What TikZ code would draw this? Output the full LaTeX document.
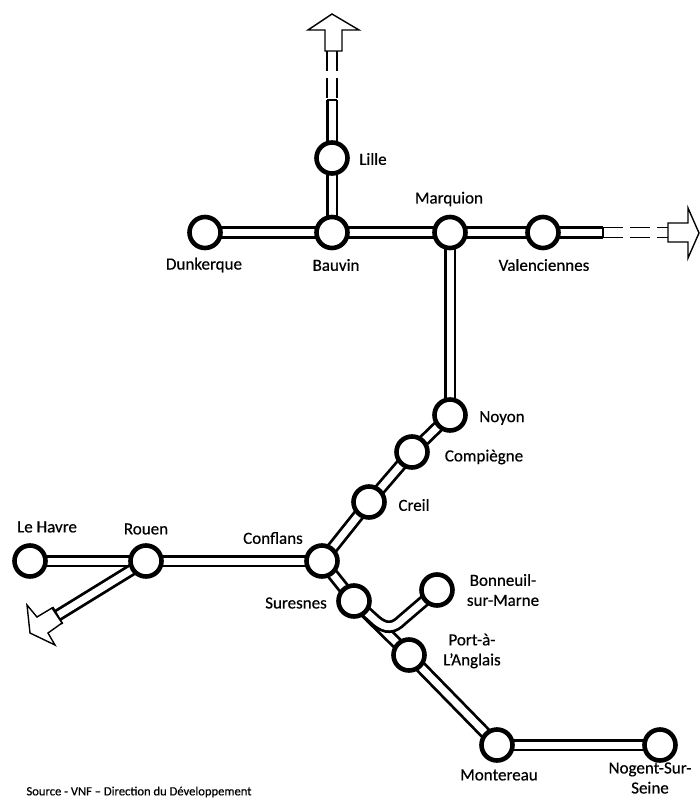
\documentclass[tikz,border=0pt]{standalone}
\usepackage{fontspec}
\setmainfont[FakeBold=0.5]{Carlito}
\tikzset{
  x=1pt,y=-1pt,
  stop/.style={circle,draw=black,fill=white,line width=4.6pt,minimum size=31pt,inner sep=0pt},
  tube/.style={draw=black,line width=2.8pt,double=white,double distance=7pt},
  capline/.style={draw=black,line width=2pt},
  ghost/.style={draw=black,line width=1.2pt,dash pattern=on 20pt off 7pt},
  outline/.style={draw=black,fill=white,line width=1.4pt,line join=miter},
  lbl/.style={font=\fontsize{17}{20}\selectfont,text=black,inner sep=0pt,align=center},
  src/.style={font=\fontsize{12.6}{14}\selectfont,text=black,inner sep=0pt}
}
\begin{document}
\begin{tikzpicture}
\useasboundingbox (0,0) rectangle (700,800);
% station positions
\coordinate (pLille) at (332,158);
\coordinate (pDunk) at (205,232.5);
\coordinate (pBauvin) at (332,232.5);
\coordinate (pMarq) at (450,232.5);
\coordinate (pVal) at (543,232.5);
\coordinate (pNoyon) at (450,415);
\coordinate (pComp) at (412,452);
\coordinate (pCreil) at (369,502);
\coordinate (pConf) at (322,561);
\coordinate (pRouen) at (146,561);
\coordinate (pHavre) at (30,561);
\coordinate (pSur) at (354,601);
\coordinate (pBonn) at (437,590);
\coordinate (pPort) at (409,655);
\coordinate (pMont) at (497,745);
\coordinate (pNog) at (660,745);
% free ends
\coordinate (nEnd) at (332,100);
\coordinate (eEnd) at (603,232.5);
\coordinate (wEnd) at (57.5,615.5);
\coordinate (nA) at (327,100);
\coordinate (nB) at (337,100);
\coordinate (nC) at (327,51);
\coordinate (nD) at (337,51);
\coordinate (eA) at (603,227.5);
\coordinate (eB) at (603,237.5);
\coordinate (eC) at (668,227.5);
\coordinate (eD) at (668,237.5);
% tubes
\draw[tube] (pLille) -- (nEnd);
\draw[tube] (pLille) -- (pBauvin);
\draw[tube] (pDunk) -- (pBauvin);
\draw[tube] (pBauvin) -- (pMarq);
\draw[tube] (pMarq) -- (pVal);
\draw[tube] (pVal) -- (eEnd);
\draw[tube] (pMarq) -- (pNoyon);
\draw[tube] (pNoyon) -- (pComp);
\draw[tube] (pComp) -- (pCreil);
\draw[tube] (pCreil) -- (pConf);
\draw[tube] (pConf) -- (pRouen);
\draw[tube] (pRouen) -- (pHavre);
\draw[tube] (pRouen) -- (wEnd);
\draw[tube] (pConf) -- (pSur);
\draw[tube] (pSur) -- (pPort);
\draw[tube] (pPort) -- (pMont);
\draw[tube] (pMont) -- (pNog);
\draw[tube] (pSur) -- (375,620) .. controls (386,630) and (394,628) .. (402,620) -- (pBonn);
% end caps
\draw[capline] (nA) -- (nB);
\draw[capline] (eA) -- (eB);
\draw[capline] (52.5,607) -- (62.5,624);
% dashed continuations
\draw[ghost] (nC) -- (nA);
\draw[ghost] (nD) -- (nB);
\draw[ghost] (eA) -- (eC);
\draw[ghost] (eB) -- (eD);
% arrows
\draw[outline] (332,14) -- (359,30) -- (342,30) -- (342,51) -- (325,51) -- (325,30) -- (308,30) -- cycle;
\draw[outline] (699,233) -- (688,258) -- (688,242) -- (668,242) -- (668,223) -- (688,223) -- (688,208) -- cycle;
\draw[outline] (52,608) -- (37,617) -- (27,605) -- (30,633) -- (55,645) -- (48,633) -- (62,623) -- cycle;
% stations
\node[stop] (Lille) at (pLille) {};
\node[stop] (Dunk) at (pDunk) {};
\node[stop] (Bauvin) at (pBauvin) {};
\node[stop] (Marq) at (pMarq) {};
\node[stop] (Val) at (pVal) {};
\node[stop] (Noyon) at (pNoyon) {};
\node[stop] (Comp) at (pComp) {};
\node[stop] (Creil) at (pCreil) {};
\node[stop] (Conf) at (pConf) {};
\node[stop] (Rouen) at (pRouen) {};
\node[stop] (Havre) at (pHavre) {};
\node[stop] (Sur) at (pSur) {};
\node[stop] (Bonn) at (pBonn) {};
\node[stop] (Port) at (pPort) {};
\node[stop] (Mont) at (pMont) {};
\node[stop] (Nog) at (pNog) {};
% labels
\node[lbl] (tLille) at (373,159) {Lille};
\node[lbl] (tDunk) at (204,265) {Dunkerque};
\node[lbl] (tBauvin) at (336,265) {Bauvin};
\node[lbl] (tMarq) at (449,199) {Marquion};
\node[lbl] (tVal) at (544,265) {Valenciennes};
\node[lbl] (tNoyon) at (502,418) {Noyon};
\node[lbl] (tComp) at (484,457) {Compiègne};
\node[lbl] (tCreil) at (414,505) {Creil};
\node[lbl] (tConf) at (273,538) {Conflans};
\node[lbl] (tRouen) at (146,529) {Rouen};
\node[lbl] (tHavre) at (47,527) {Le Havre};
\node[lbl] (tSur) at (296,603) {Suresnes};
\node[lbl] (tBonn) at (503,590) {Bonneuil-\\sur-Marne};
\node[lbl] (tPort) at (472,651) {Port-à-\\L'Anglais};
\node[lbl] (tMont) at (499,775) {Montereau};
\node[lbl] (tNog) at (650,778) {Nogent-Sur-\\Seine};
\node[src] (tSrc) at (139,792) {Source - VNF – Direction du Développement};
\end{tikzpicture}
\end{document}
